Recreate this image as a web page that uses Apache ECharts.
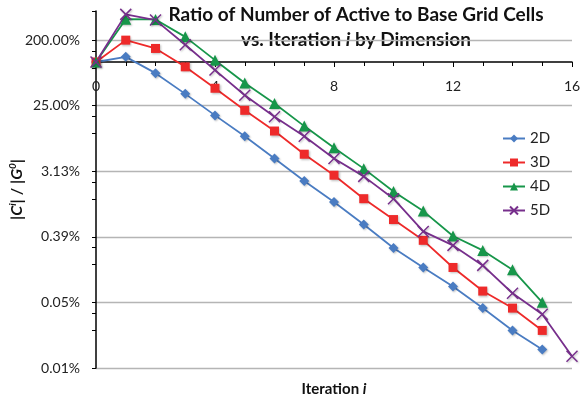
<!DOCTYPE html>
<html>
<head>
<meta charset="utf-8">
<script src="https://cdn.jsdelivr.net/npm/echarts@6/dist/echarts.min.js"></script>
<style>
  html, body { margin: 0; padding: 0; background: #fff; }
  #chart { width: 580px; height: 399px; }
</style>
</head>
<body>
<div id="chart"></div>
<script>
// |C^i| / |G^0| ratio per iteration i (log scale)
const iterations = [0, 1, 2, 3, 4, 5, 6, 7, 8, 9, 10, 11, 12, 13, 14, 15, 16];
const dim2 = [1, 1.177, 0.702, 0.364, 0.184, 0.0947, 0.0468, 0.0230, 0.0118, 0.00578, 0.00275, 0.00148, 0.000808, 0.000408, 0.000201, 0.000110];
const dim3 = [1, 2.0, 1.537, 0.858, 0.435, 0.216, 0.112, 0.0537, 0.0276, 0.0131, 0.00676, 0.00350, 0.00148, 0.000700, 0.000408, 0.000201];
const dim4 = [1, 3.89, 3.86, 2.22, 1.06, 0.514, 0.268, 0.131, 0.0661, 0.0340, 0.0165, 0.00885, 0.00402, 0.00254, 0.00138, 0.000490];
const dim5 = [1, 4.53, 3.78, 1.73, 0.774, 0.349, 0.176, 0.0947, 0.0468, 0.0266, 0.0131, 0.00464, 0.00298, 0.00158, 0.000653, 0.000336, 0.0000886];
const seriesNames = ["2D", "3D", "4D", "5D"];
const colors = ["#4a7cc2", "#ee2a2a", "#17964a", "#772f8c"];
const symbols = ["diamond", "rect", "triangle", "path://M0,0L10,10M10,0L0,10"];
const symbolSizes = [10, 9, 11, 11];

const font = "Lato";

function pairs(values) {
  return values.map((v, i) => [iterations[i], v]);
}

const chart = echarts.init(document.getElementById("chart"));

chart.setOption({
  animation: false,
  graphic: [
    {
      type: "text",
      x: 356,
      y: 2,
      style: {
        text: "Ratio of Number of Active to Base Grid Cells\nvs. Iteration {it|i} by Dimension",
        align: "center",
        verticalAlign: "top",
        fontFamily: font,
        fontSize: 19,
        fontWeight: "bold",
        lineHeight: 25,
        fill: "#111",
        rich: {
          it: { fontFamily: font, fontSize: 19, fontWeight: "bold", fontStyle: "italic", lineHeight: 25 }
        }
      }
    }
  ],
  grid: {
    left: 96,
    right: 8,
    top: 11,
    bottom: 31,
    outerBoundsMode: "none"
  },
  legend: {
    orient: "vertical",
    left: 497,
    top: 126,
    itemWidth: 22,
    itemHeight: 10,
    itemGap: 9,
    data: seriesNames,
    textStyle: { fontFamily: font, fontSize: 15, color: "#222" }
  },
  xAxis: [
    {
      type: "value",
      min: 0,
      max: 16,
      interval: 4,
      position: "top",
      offset: -51,
      axisLine: { onZero: false, lineStyle: { color: "#000", width: 1.5 } },
      axisTick: { inside: true, length: 5, lineStyle: { color: "#000" } },
      minorTick: { show: true, splitNumber: 4, length: 4, lineStyle: { color: "#000" } },
      axisLabel: { inside: true, margin: 17, fontFamily: font, fontSize: 14, color: "#222" },
      splitLine: { show: false }
    },
    {
      type: "value",
      min: 0,
      max: 16,
      position: "bottom",
      axisLine: { show: false },
      axisTick: { show: false },
      axisLabel: { show: false },
      splitLine: { show: false },
      name: "{n|Iteration }{it|i}",
      nameLocation: "middle",
      nameGap: 14,
      nameTextStyle: {
        rich: {
          n: { fontFamily: font, fontSize: 15, fontWeight: "bold", color: "#111" },
          it: { fontFamily: font, fontSize: 15, fontWeight: "bold", fontStyle: "italic", color: "#111" }
        }
      }
    }
  ],
  yAxis: {
    type: "log",
    logBase: 2,
    min: 0.00006103515625,
    max: 5.04,
    interval: 3,
    axisLine: { show: true, lineStyle: { color: "#000", width: 1.5 } },
    axisTick: { show: true, length: 4, lineStyle: { color: "#000" } },
    minorTick: { show: true, splitNumber: 3, length: 4, lineStyle: { color: "#000" } },
    splitLine: { show: true, showMaxLine: false, lineStyle: { color: "#b5b5b5", width: 1.3 } },
    axisLabel: {
      showMaxLabel: false,
      margin: 16,
      fontFamily: font,
      fontSize: 14,
      color: "#222",
      formatter: v => (v * 100).toFixed(2) + "%"
    },
    name: "{n||}{it|C}{sup|i}{n|| / |}{it|G}{sup|0}{n||}",
    nameLocation: "middle",
    nameRotate: 90,
    nameGap: 70,
    nameMoveOverlap: false,
    nameTextStyle: {
      rich: {
        n: { fontFamily: font, fontSize: 16, fontWeight: "bold", color: "#111", lineHeight: 18 },
        it: { fontFamily: font, fontSize: 16, fontWeight: "bold", fontStyle: "italic", color: "#111", lineHeight: 18 },
        sup: { fontFamily: font, fontSize: 10, fontWeight: "bold", fontStyle: "italic", color: "#111", verticalAlign: "top", lineHeight: 18 }
      }
    }
  },
  series: [dim2, dim3, dim4, dim5].map((vals, k) => ({
    name: seriesNames[k],
    type: "line",
    data: pairs(vals),
    symbol: symbols[k],
    symbolSize: symbolSizes[k],
    showAllSymbol: true,
    lineStyle: { width: 1.8, color: colors[k] },
    itemStyle: {
      color: colors[k],
      borderColor: k === 3 ? colors[k] : "transparent",
      borderWidth: k === 3 ? 1.5 : 0,
      shadowBlur: 2,
      shadowColor: "rgba(0,0,0,0.25)",
      shadowOffsetX: 1,
      shadowOffsetY: 1
    }
  }))
});
</script>
</body>
</html>
